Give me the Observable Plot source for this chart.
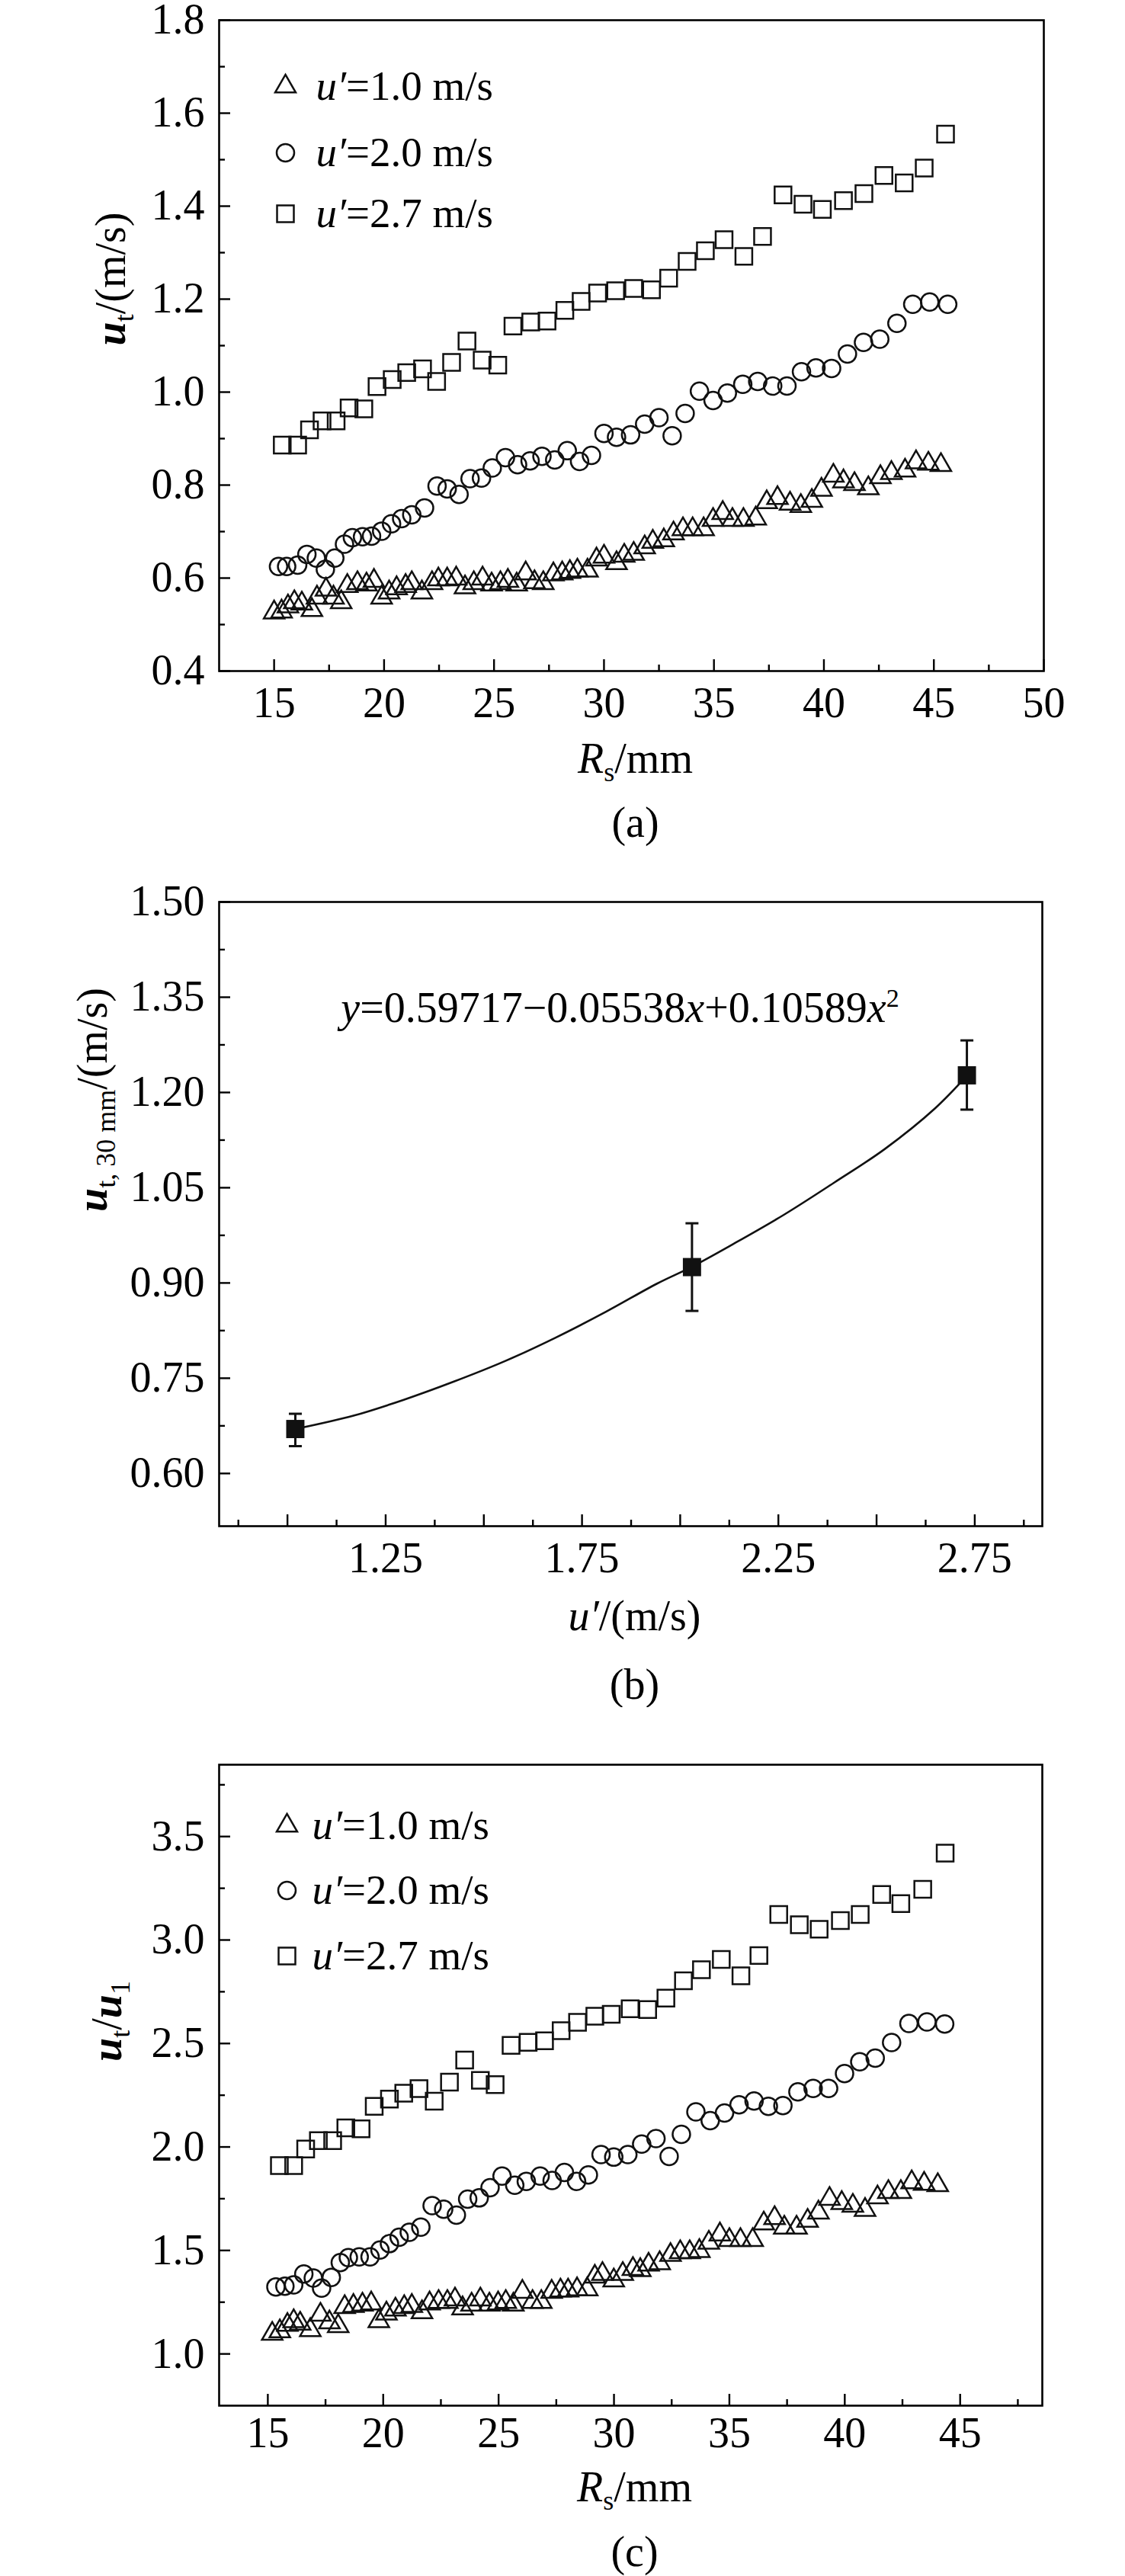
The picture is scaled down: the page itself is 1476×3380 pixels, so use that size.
<!DOCTYPE html>
<html><head><meta charset="utf-8">
<script src="https://cdn.jsdelivr.net/npm/d3@7"></script>
<script src="https://cdn.jsdelivr.net/npm/@observablehq/plot@0.6"></script>
<style>
body{margin:0;background:#fff;}
#chart svg{display:block;}
</style></head><body><div id="chart"></div>
<script>
// ---------- Panel (a): u_t vs R_s ----------
const a_u10 = [[15.0,0.526],[15.34,0.528],[15.63,0.539],[15.92,0.548],[16.26,0.545],[16.72,0.531],[16.95,0.558],[17.36,0.575],[17.70,0.558],[18.05,0.548],[18.33,0.583],[18.79,0.589],[19.20,0.586],[19.54,0.594],[19.89,0.558],[20.23,0.569],[20.57,0.578],[20.98,0.583],[21.26,0.589],[21.72,0.569],[22.18,0.589],[22.47,0.597],[22.87,0.597],[23.28,0.599],[23.68,0.580],[24.08,0.589],[24.48,0.599],[24.89,0.586],[25.29,0.589],[25.63,0.594],[26.03,0.586],[26.44,0.610],[26.84,0.591],[27.24,0.589],[27.70,0.608],[28.10,0.610],[28.45,0.613],[28.79,0.616],[29.25,0.616],[29.66,0.640],[30.0,0.646],[30.57,0.632],[30.92,0.648],[31.35,0.652],[31.85,0.666],[32.22,0.678],[32.72,0.681],[33.16,0.696],[33.59,0.705],[34.03,0.705],[34.53,0.705],[34.96,0.725],[35.40,0.740],[35.84,0.725],[36.34,0.725],[36.90,0.728],[37.40,0.763],[37.89,0.772],[38.46,0.760],[38.95,0.755],[39.45,0.766],[39.89,0.790],[40.43,0.820],[40.89,0.808],[41.39,0.802],[42.02,0.793],[42.57,0.817],[43.07,0.826],[43.69,0.831],[44.19,0.849],[44.75,0.846],[45.32,0.843]];
const a_u20 = [[15.20,0.625],[15.57,0.625],[16.07,0.628],[16.49,0.651],[16.92,0.643],[17.33,0.619],[17.76,0.643],[18.20,0.673],[18.56,0.687],[19.02,0.689],[19.43,0.690],[19.89,0.701],[20.34,0.717],[20.80,0.728],[21.26,0.736],[21.84,0.751],[22.41,0.798],[22.87,0.792],[23.41,0.780],[23.91,0.814],[24.43,0.815],[24.92,0.837],[25.52,0.859],[26.07,0.844],[26.64,0.852],[27.18,0.862],[27.76,0.854],[28.33,0.874],[28.89,0.851],[29.43,0.864],[30.00,0.911],[30.57,0.903],[31.21,0.908],[31.85,0.931],[32.50,0.945],[33.10,0.906],[33.69,0.954],[34.34,1.002],[34.96,0.982],[35.61,0.998],[36.31,1.017],[36.99,1.023],[37.67,1.013],[38.32,1.013],[38.98,1.044],[39.64,1.052],[40.35,1.051],[41.07,1.082],[41.80,1.107],[42.54,1.114],[43.32,1.148],[44.04,1.189],[44.81,1.194],[45.63,1.189]];
const a_u27 = [[15.37,0.886],[16.07,0.886],[16.61,0.919],[17.18,0.938],[17.82,0.938],[18.41,0.966],[19.08,0.964],[19.68,1.012],[20.37,1.027],[21.03,1.042],[21.75,1.050],[22.39,1.023],[23.07,1.064],[23.77,1.110],[24.46,1.069],[25.17,1.058],[25.86,1.142],[26.67,1.151],[27.41,1.153],[28.22,1.176],[28.96,1.195],[29.71,1.213],[30.53,1.218],[31.35,1.223],[32.16,1.220],[32.94,1.245],[33.78,1.281],[34.61,1.304],[35.46,1.328],[36.36,1.292],[37.21,1.335],[38.14,1.424],[39.05,1.404],[39.93,1.393],[40.89,1.412],[41.82,1.427],[42.73,1.466],[43.65,1.450],[44.56,1.482],[45.53,1.555]];
const a_xDomain = [12.5, 50], a_yDomain = [0.4, 1.8];
const a_xLabels = [15,20,25,30,35,40,45,50];
const a_xMinor = [17.5,22.5,27.5,32.5,37.5,42.5,47.5];
const a_yLabels = [0.4,0.6,0.8,1.0,1.2,1.4,1.6,1.8];
const a_yMinor = [0.5,0.7,0.9,1.1,1.3,1.5,1.7];

// ---------- Panel (b): u_t,30mm vs u' ----------
const b_u = [1.02, 2.03, 2.73];
const b_mean = [0.670, 0.925, 1.227];
const b_lo = [0.643, 0.856, 1.173];
const b_hi = [0.694, 0.994, 1.282];
const b_fitX = [1.02,1.168,1.296,1.425,1.554,1.683,1.812,1.941,2.028,2.134,2.263,2.392,2.521,2.649,2.731];
const b_fitY = [0.670,0.691,0.716,0.745,0.777,0.814,0.855,0.899,0.925,0.961,1.007,1.058,1.111,1.175,1.227];
const b_xDomain = [0.826, 2.922], b_yDomain = [0.517, 1.50];
const b_xLabels = [1.25,1.75,2.25,2.75];
const b_xMajor = [1.0,1.25,1.5,1.75,2.0,2.25,2.5,2.75];
const b_xMinor = [0.875,1.125,1.375,1.625,1.875,2.125,2.375,2.625,2.875];
const b_yLabels = [0.60,0.75,0.90,1.05,1.20,1.35,1.50];
const b_yMinor = [0.675,0.825,0.975,1.125,1.275,1.425];
const b_equation = "y=0.59717−0.05538x+0.10589x^2";

// ---------- Panel (c): u_t/u_1 vs R_s ----------
const c_u10 = [[15.19,1.097],[15.52,1.109],[15.85,1.140],[16.12,1.158],[16.40,1.146],[16.84,1.115],[17.28,1.189],[17.67,1.152],[18.05,1.134],[18.33,1.226],[18.71,1.232],[19.10,1.238],[19.48,1.244],[19.81,1.158],[20.14,1.195],[20.53,1.214],[20.91,1.226],[21.24,1.232],[21.68,1.201],[22.01,1.244],[22.40,1.251],[22.78,1.251],[23.11,1.263],[23.44,1.220],[23.83,1.238],[24.21,1.263],[24.60,1.238],[24.98,1.244],[25.31,1.251],[25.64,1.238],[26.03,1.300],[26.47,1.251],[26.85,1.251],[27.30,1.300],[27.68,1.306],[28.01,1.306],[28.40,1.312],[28.84,1.312],[29.17,1.373],[29.50,1.386],[29.99,1.355],[30.38,1.386],[30.82,1.410],[31.14,1.405],[31.50,1.431],[31.98,1.438],[32.45,1.478],[32.87,1.491],[33.28,1.491],[33.70,1.497],[34.11,1.537],[34.59,1.577],[35.00,1.550],[35.48,1.550],[36.01,1.550],[36.49,1.630],[36.96,1.656],[37.38,1.610],[37.91,1.610],[38.39,1.643],[38.86,1.683],[39.34,1.749],[39.87,1.729],[40.35,1.716],[40.88,1.696],[41.42,1.756],[41.89,1.782],[42.43,1.782],[42.90,1.829],[43.44,1.822],[44.03,1.815]];
const c_u20 = [[15.35,1.324],[15.74,1.327],[16.12,1.334],[16.56,1.386],[16.97,1.367],[17.33,1.318],[17.75,1.370],[18.14,1.441],[18.49,1.465],[18.96,1.469],[19.43,1.469],[19.86,1.502],[20.27,1.533],[20.69,1.564],[21.13,1.588],[21.63,1.613],[22.12,1.717],[22.62,1.699],[23.17,1.671],[23.66,1.748],[24.16,1.754],[24.63,1.803],[25.15,1.859],[25.70,1.815],[26.20,1.834],[26.80,1.859],[27.32,1.838],[27.85,1.877],[28.38,1.834],[28.89,1.865],[29.44,1.963],[29.99,1.951],[30.60,1.963],[31.20,2.014],[31.82,2.041],[32.39,1.954],[32.92,2.061],[33.55,2.170],[34.17,2.127],[34.79,2.164],[35.42,2.204],[36.07,2.222],[36.69,2.196],[37.32,2.200],[37.97,2.266],[38.63,2.283],[39.30,2.283],[39.99,2.355],[40.65,2.412],[41.32,2.429],[42.03,2.505],[42.78,2.597],[43.56,2.604],[44.33,2.594]];
const c_u27 = [[15.50,1.910],[16.12,1.910],[16.64,1.990],[17.19,2.031],[17.81,2.031],[18.38,2.092],[19.04,2.088],[19.61,2.196],[20.27,2.231],[20.89,2.260],[21.55,2.282],[22.21,2.221],[22.87,2.313],[23.53,2.420],[24.21,2.322],[24.85,2.301],[25.54,2.491],[26.28,2.506],[26.99,2.513],[27.71,2.562],[28.42,2.602],[29.17,2.632],[29.88,2.641],[30.70,2.668],[31.46,2.664],[32.25,2.719],[33.01,2.803],[33.79,2.856],[34.65,2.906],[35.50,2.827],[36.28,2.925],[37.14,3.123],[38.03,3.074],[38.89,3.052],[39.81,3.094],[40.67,3.123],[41.60,3.220],[42.43,3.176],[43.38,3.245],[44.35,3.420]];
const c_xDomain = [12.89, 48.56], c_yDomain = [0.75, 3.847];
const c_xLabels = [15,20,25,30,35,40,45];
const c_xMinor = [17.5,22.5,27.5,32.5,37.5,42.5,47.5];
const c_yLabels = [1.0,1.5,2.0,2.5,3.0,3.5];
const c_yMinor = [1.25,1.75,2.25,2.75,3.25,3.75];

const legendLabels = ["u′=1.0 m/s", "u′=2.0 m/s", "u′=2.7 m/s"];
const symbols = ["triangle", "circle", "square"];
const radii = [10, 11.5, 12.4];

// ---------- helpers ----------
const FONT = "'Liberation Serif','Times New Roman',Times,serif";
const FS = 56;
const W = 1476;
const SUB = 36;
const uBI = '<tspan font-weight="bold" font-style="italic">u</tspan>';
const RICH = {
  "u_t/(m/s)": `${uBI}<tspan font-size="${SUB}" dy="11">t</tspan><tspan dy="-11">/(m/s)</tspan>`,
  "u_t30/(m/s)": `${uBI}<tspan font-size="${SUB}" dy="11">t, 30 mm</tspan><tspan dy="-11">/(m/s)</tspan>`,
  "u_t/u_1": `${uBI}<tspan font-size="${SUB}" dy="11">t</tspan><tspan dy="-11">/</tspan>${uBI}<tspan font-size="${SUB}" dy="11">1</tspan>`,
  "R_s/mm": `<tspan font-style="italic">R</tspan><tspan font-size="${SUB}" dy="11">s</tspan><tspan dy="-11">/mm</tspan>`,
  "u′/(m/s)": `<tspan font-style="italic">u′</tspan>/(m/s)`,
  [b_equation]: `<tspan font-style="italic">y</tspan>=0.59717−0.05538<tspan font-style="italic">x</tspan>+0.10589<tspan font-style="italic">x</tspan><tspan font-size="34" dy="-20">2</tspan>`
};
legendLabels.forEach(l => { RICH[l] = `<tspan font-style="italic">u′</tspan>${l.slice(2)}`; });

function richify(svg) {
  svg.querySelectorAll("text").forEach(t => {
    const k = t.textContent;
    if (RICH[k] !== undefined) t.innerHTML = RICH[k];
  });
  return svg;
}
const toObj = arr => arr.map(([x, y]) => ({x, y}));
const capSymbol = {draw(ctx, size) { const r = Math.sqrt(size / Math.PI); ctx.moveTo(-r, 0); ctx.lineTo(r, 0); }};

function tickMarks(frameW, frameH, xMajor, xMinor, yMajor, yMinor) {
  const sw = 2.4, L = 15, l = 8;
  return [
    Plot.tickX(xMajor, {x: d => d, insetTop: frameH - L, strokeWidth: sw}),
    Plot.tickX(xMinor, {x: d => d, insetTop: frameH - l, strokeWidth: sw}),
    Plot.tickY(yMajor, {y: d => d, insetRight: frameW - L, strokeWidth: sw}),
    Plot.tickY(yMinor, {y: d => d, insetRight: frameW - l, strokeWidth: sw})
  ];
}

function scatterPanel(cfg) {
  const frameW = W - cfg.ml - cfg.mr, frameH = cfg.h - cfg.mt - cfg.mb;
  const series = [cfg.s1, cfg.s2, cfg.s3];
  const marks = [
    ...tickMarks(frameW, frameH, cfg.xLabels, cfg.xMinor, cfg.yLabels, cfg.yMinor),
    Plot.axisX({ticks: cfg.xLabels, tickSize: 0, tickPadding: cfg.xPad, tickFormat: d => String(d), label: null}),
    Plot.axisY({ticks: cfg.yLabels, tickSize: 0, tickPadding: 19, tickFormat: d3.format(".1f"), label: null}),
    Plot.frame({strokeWidth: 2.6}),
    ...series.map((s, i) => Plot.dot(toObj(s), {x: "x", y: "y", symbol: symbols[i], r: radii[i], fill: "none", stroke: "#111", strokeWidth: 2.5})),
    ...legendLabels.map((lab, i) => Plot.dot([lab], {frameAnchor: "top-left", dx: cfg.legX, dy: cfg.legY[i], symbol: symbols[i], r: radii[i], fill: "none", stroke: "#111", strokeWidth: 2.5})),
    ...legendLabels.map((lab, i) => Plot.text([lab], {text: d => d, frameAnchor: "top-left", dx: cfg.legTX, dy: cfg.legY[i], textAnchor: "start", lineAnchor: "middle", fontSize: 55})),
    Plot.text([cfg.xTitle], {text: d => d, frameAnchor: "bottom", dy: cfg.xTitleDy, dx: 5, lineAnchor: "middle"}),
    Plot.text([cfg.yTitle], {text: d => d, frameAnchor: "left", dx: cfg.yTitleDx, dy: cfg.yTitleDy, rotate: -90, lineAnchor: "middle"}),
    Plot.text([cfg.caption], {text: d => d, frameAnchor: "bottom", dy: cfg.capDy, dx: 5, lineAnchor: "middle"})
  ];
  return richify(Plot.plot({
    width: W, height: cfg.h,
    marginTop: cfg.mt, marginBottom: cfg.mb, marginLeft: cfg.ml, marginRight: cfg.mr,
    style: {fontFamily: FONT, fontSize: FS + "px", background: "white", color: "black"},
    x: {domain: cfg.xDomain, label: null},
    y: {domain: cfg.yDomain, label: null},
    marks
  }));
}

const chart = document.getElementById("chart");

// Panel (a)
chart.appendChild(scatterPanel({
  h: 1120, mt: 26, mb: 240, ml: 287, mr: 107,
  xDomain: a_xDomain, yDomain: a_yDomain,
  xLabels: a_xLabels, xMinor: a_xMinor, yLabels: a_yLabels, yMinor: a_yMinor,
  xPad: 21, s1: a_u10, s2: a_u20, s3: a_u27,
  legX: 87, legTX: 127, legY: [87, 174, 254],
  xTitle: "R_s/mm", xTitleDy: 116, yTitle: "u_t/(m/s)", yTitleDx: -141, yTitleDy: 0,
  caption: "(a)", capDy: 200
}));

// Panel (b)
{
  const h = 1120, mt = 63, mb = 238, ml = 287, mr = 109;
  const frameW = W - ml - mr, frameH = h - mt - mb;
  const pts = b_u.map((u, i) => ({u, m: b_mean[i], lo: b_lo[i], hi: b_hi[i]}));
  const fit = b_fitX.map((x, i) => ({x, y: b_fitY[i]}));
  const svg = Plot.plot({
    width: W, height: h, marginTop: mt, marginBottom: mb, marginLeft: ml, marginRight: mr,
    style: {fontFamily: FONT, fontSize: FS + "px", background: "white", color: "black"},
    x: {domain: b_xDomain, label: null},
    y: {domain: b_yDomain, label: null},
    marks: [
      ...tickMarks(frameW, frameH, b_xMajor, b_xMinor, b_yLabels, b_yMinor),
      Plot.axisX({ticks: b_xLabels, tickSize: 0, tickPadding: 21, tickFormat: d3.format(".2f"), label: null}),
      Plot.axisY({ticks: b_yLabels, tickSize: 0, tickPadding: 19, tickFormat: d3.format(".2f"), label: null}),
      Plot.frame({strokeWidth: 2.6}),
      Plot.line(fit, {x: "x", y: "y", curve: "catmull-rom", stroke: "#111", strokeWidth: 2.6}),
      Plot.ruleX(pts, {x: "u", y1: "lo", y2: "hi", stroke: "#111", strokeWidth: 3}),
      Plot.dot(pts, {x: "u", y: "lo", symbol: capSymbol, r: 8.5, stroke: "#111", strokeWidth: 3}),
      Plot.dot(pts, {x: "u", y: "hi", symbol: capSymbol, r: 8.5, stroke: "#111", strokeWidth: 3}),
      Plot.dot(pts, {x: "u", y: "m", symbol: "square", r: 13.5, fill: "#111", stroke: "none"}),
      Plot.text([b_equation], {text: d => d, frameAnchor: "top", dx: -14, dy: 140, lineAnchor: "middle"}),
      Plot.text(["u′/(m/s)"], {text: d => d, frameAnchor: "bottom", dy: 119, dx: 5, lineAnchor: "middle"}),
      Plot.text(["u_t30/(m/s)"], {text: d => d, frameAnchor: "left", dx: -165, dy: -3, rotate: -90, lineAnchor: "middle"}),
      Plot.text(["(b)"], {text: d => d, frameAnchor: "bottom", dy: 209, dx: 5, lineAnchor: "middle"})
    ]
  });
  chart.appendChild(richify(svg));
}

// Panel (c)
chart.appendChild(scatterPanel({
  h: 1140, mt: 75, mb: 224, ml: 287, mr: 109,
  xDomain: c_xDomain, yDomain: c_yDomain,
  xLabels: c_xLabels, xMinor: c_xMinor, yLabels: c_yLabels, yMinor: c_yMinor,
  xPad: 15, s1: c_u10, s2: c_u20, s3: c_u27,
  legX: 89, legTX: 122, legY: [80, 165, 251],
  xTitle: "R_s/mm", xTitleDy: 108, yTitle: "u_t/u_1", yTitleDx: -146, yTitleDy: -31,
  caption: "(c)", capDy: 193
}));
</script>
</body></html>
